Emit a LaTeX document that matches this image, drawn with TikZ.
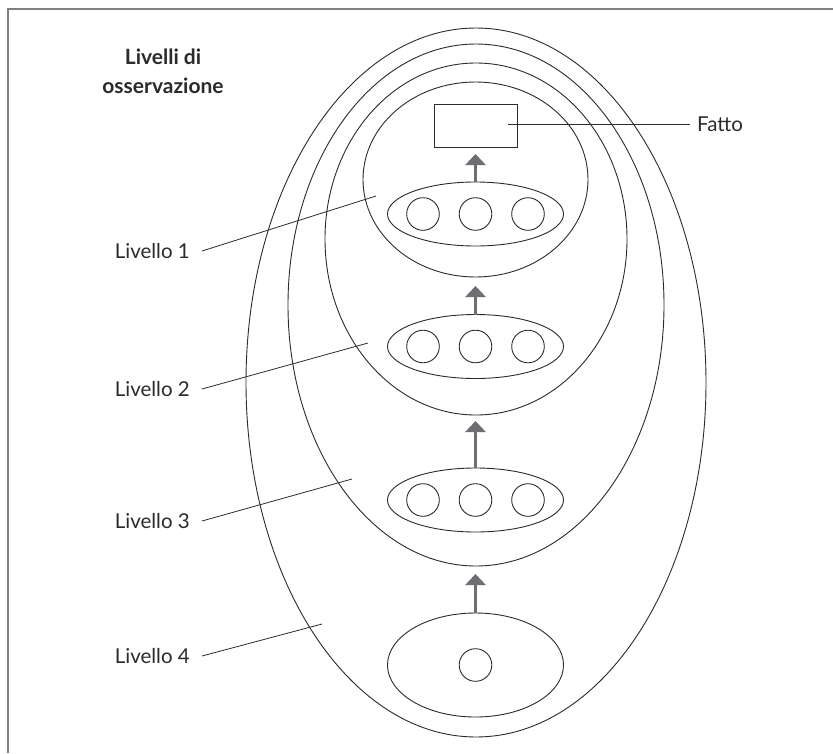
\documentclass[tikz,border=0pt]{standalone}
\usepackage{fontspec}
\setmainfont{Lato}
\usetikzlibrary{arrows.meta}
\definecolor{ink}{HTML}{2B2B2B}
\definecolor{arrowgray}{HTML}{6D6E71}
\begin{document}
\begin{tikzpicture}[x=1pt,y=-1pt,
  ln/.style={draw=ink,line width=0.9pt},
  lbl/.style={font=\fontsize{20.5}{24}\selectfont,text=ink,inner sep=0pt},
  ptr/.style={draw=ink,line width=0.8pt},
  upar/.style={draw=arrowgray,line width=2.8pt,-{Triangle[width=20pt,length=11pt]}},
  dot/.style={circle,draw=ink,line width=0.9pt,minimum size=32.6pt,inner sep=0pt}]
\useasboundingbox (0,0) rectangle (833,753);
\fill[white] (0,0) rectangle (833,753);
\draw[black!50,line width=2pt] (8,753) -- (8,9) -- (833,9);
% nested levels
\draw[ln] (476,382.5) ellipse [x radius=230,y radius=354.5];
\draw[ln] (476,305) ellipse [x radius=188,y radius=261];
\draw[ln] (476,239) ellipse [x radius=151,y radius=176];
\draw[ln] (475.5,179.5) ellipse [x radius=112.5,y radius=97.5];
% fact
\node[draw=ink,line width=0.9pt,minimum width=83pt,minimum height=43pt,inner sep=0pt] (fatto) at (475.5,125.5) {};
% rows
\foreach \n/\y in {a/214,b/346.5,c/500}{
  \draw[ln] (475.5,\y) ellipse [x radius=88,y radius=32];
  \coordinate (top-\n) at (475.5,\y-32);
  \node[dot] (\n1) at (423,\y) {};
  \node[dot] (\n2) at (475.5,\y) {};
  \node[dot] (\n3) at (528,\y) {};
}
\draw[ln] (475.5,665) ellipse [x radius=88,y radius=52];
\coordinate (top-d) at (475.5,613);
\node[dot] (d1) at (475.5,665) {};
% arrows
\coordinate (t1) at (475.5,154);
\coordinate (t2) at (475.5,286);
\coordinate (t3) at (475.5,421);
\coordinate (t4) at (475.5,574);
\draw[upar] (top-a) -- (t1);
\draw[upar] (top-b) -- (t2);
\draw[upar] (top-c) -- (t3);
\draw[upar] (top-d) -- (t4);
% Fatto
\coordinate (f0) at (508,124);
\coordinate (f1) at (690,124);
\node[lbl,anchor=west] (fl) at (697,124) {Fatto};
\draw[ptr] (f0) -- (f1);
% title
\node[font=\fontsize{21}{29}\selectfont\bfseries,text=ink,align=center,inner sep=0pt,anchor=center] (title) at (163,71) {Livelli di\\osservazione};
% level labels
\node[lbl,anchor=east] (l1) at (190,251) {Livello 1};
\node[lbl,anchor=east] (l2) at (190,389) {Livello 2};
\node[lbl,anchor=east] (l3) at (190,521) {Livello 3};
\node[lbl,anchor=east] (l4) at (190,656) {Livello 4};
\coordinate (s1) at (202,251);
\coordinate (s2) at (202,389);
\coordinate (s3) at (202,521);
\coordinate (s4) at (202,656);
\coordinate (e1) at (376,196);
\coordinate (e2) at (368,343);
\coordinate (e3) at (352,479);
\coordinate (e4) at (322,624);
\draw[ptr] (s1) -- (e1);
\draw[ptr] (s2) -- (e2);
\draw[ptr] (s3) -- (e3);
\draw[ptr] (s4) -- (e4);
\end{tikzpicture}
\end{document}
